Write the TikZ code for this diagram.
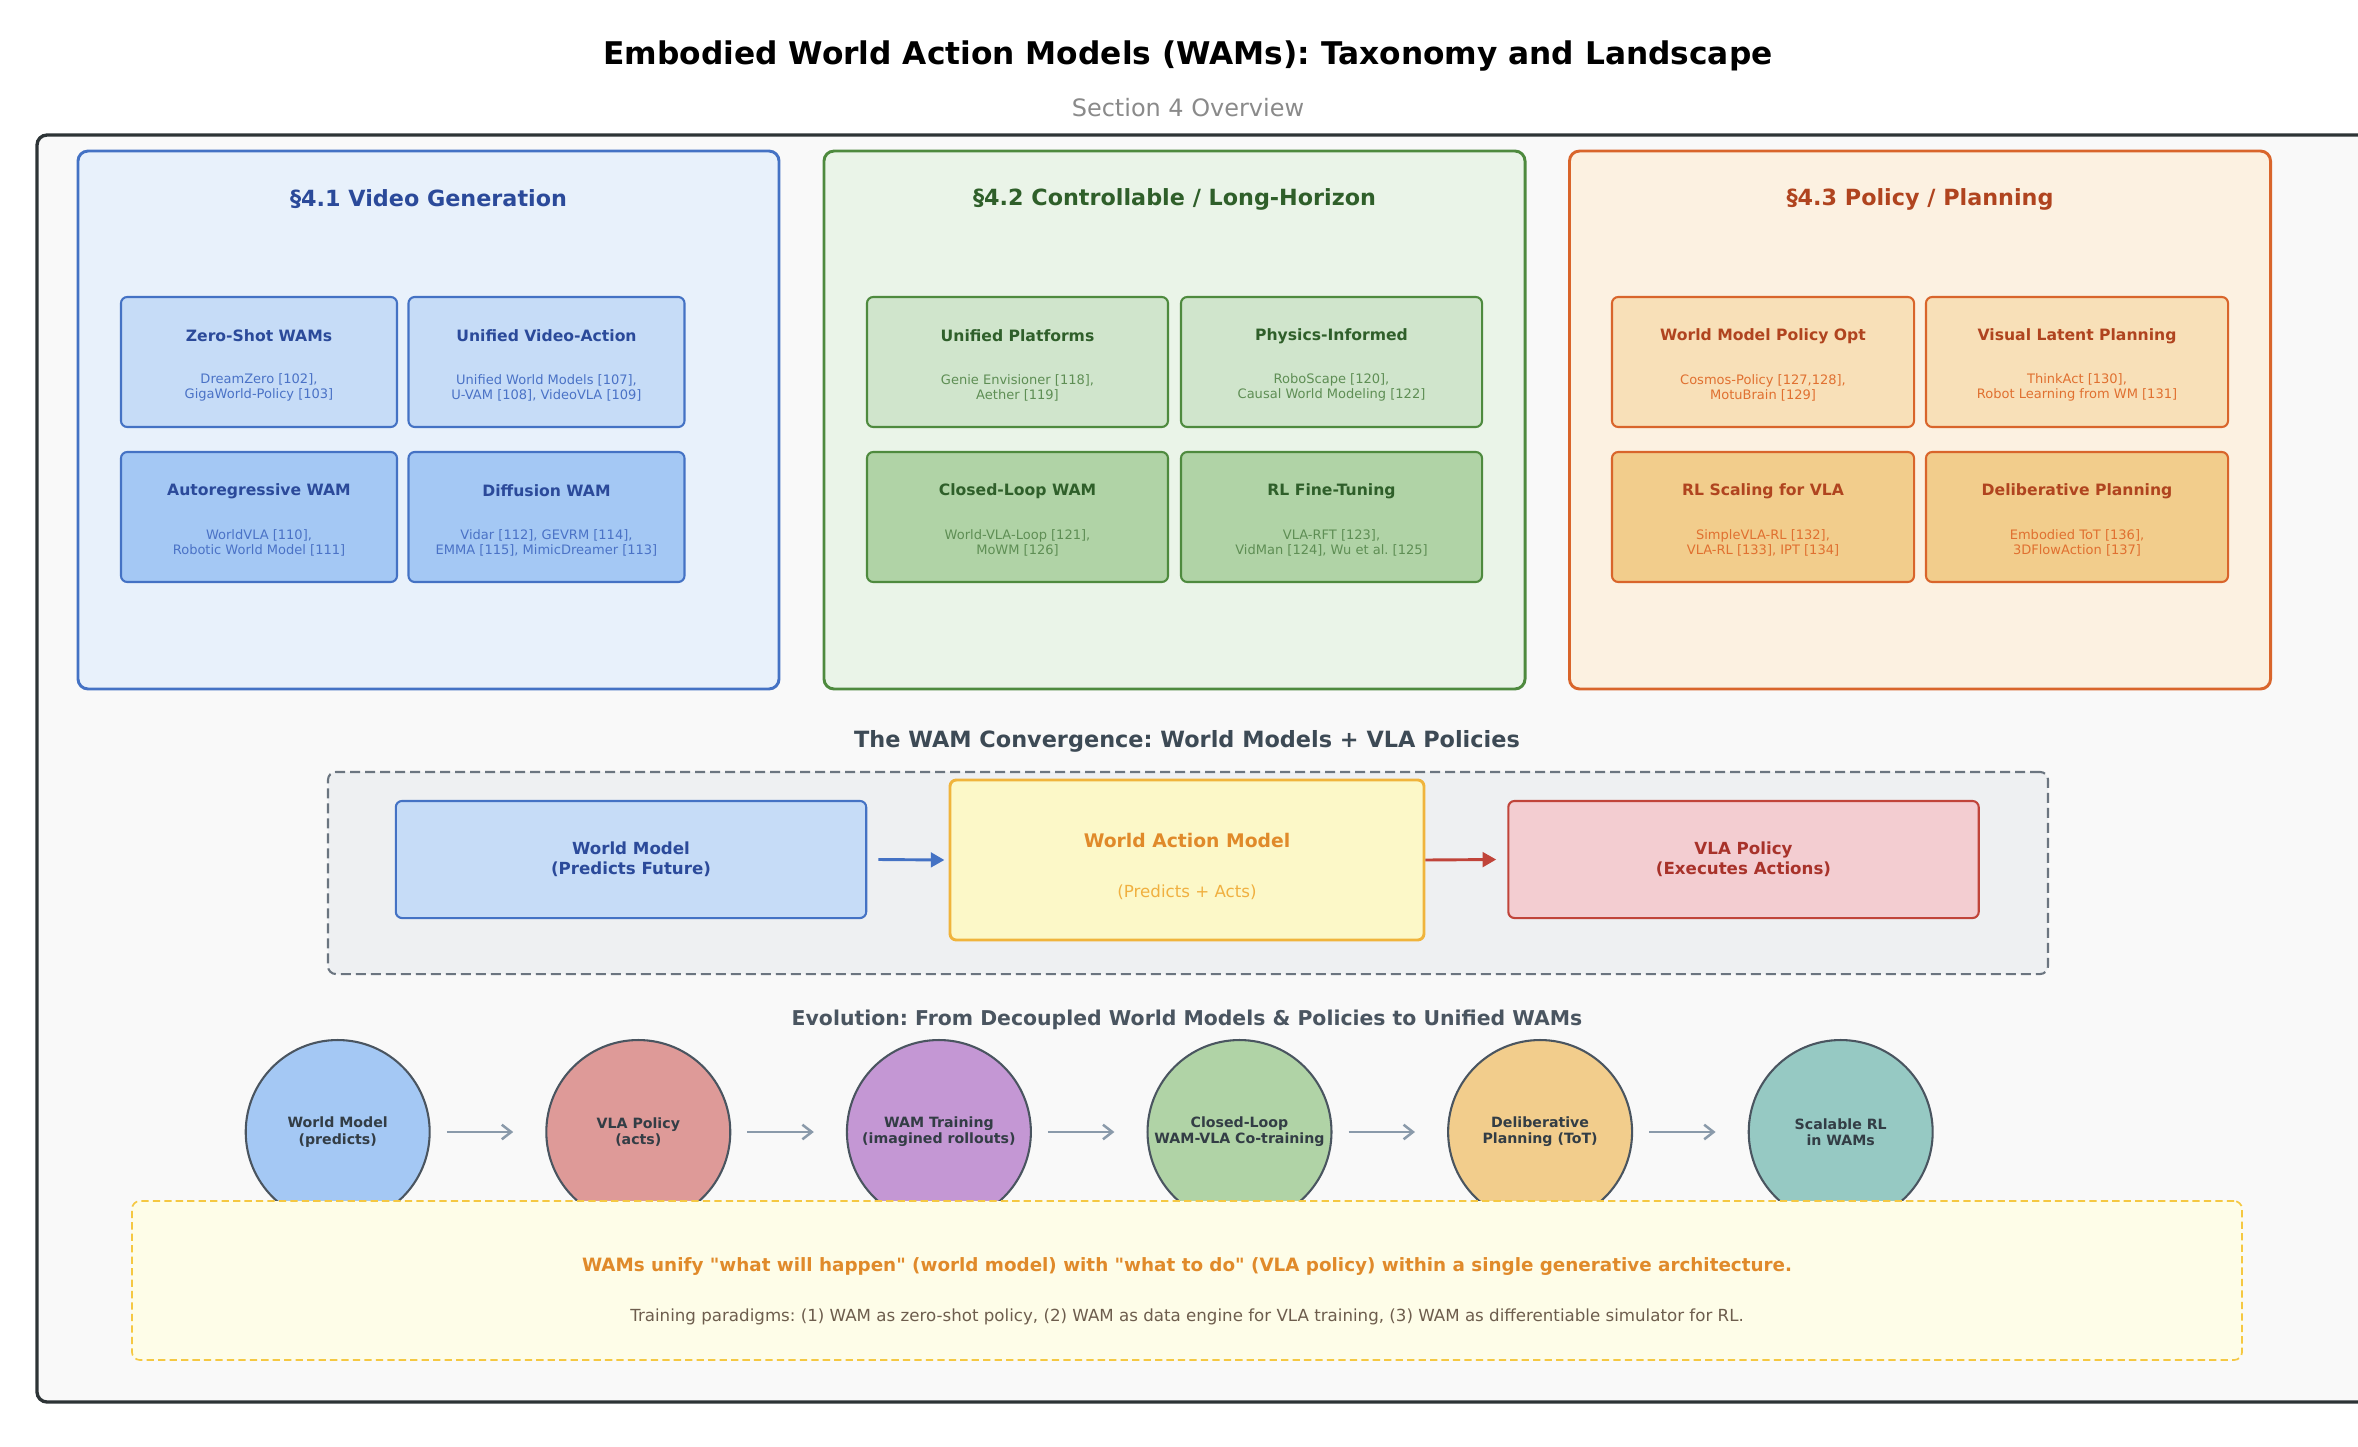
\documentclass[tikz,border=0pt]{standalone}
\usepackage{fontspec}
\setmainfont{DejaVu Sans}[Ligatures=TeXOff]
\usepackage{tikz}
\usetikzlibrary{arrows.meta,positioning}
\usepackage{xcolor}
\frenchspacing
\definecolor{framegray}{HTML}{2D3436}
\definecolor{framefill}{HTML}{F9F9F9}
\definecolor{subgray}{HTML}{8A8A8A}
\definecolor{vgline}{HTML}{4472C4}
\definecolor{vgpanel}{HTML}{E8F1FB}
\definecolor{vgtop}{HTML}{C6DCF7}
\definecolor{vgbot}{HTML}{A4C8F4}
\definecolor{vgtext}{HTML}{2B4A9A}
\definecolor{vgref}{HTML}{4A72C6}
\definecolor{clline}{HTML}{4E8A3E}
\definecolor{clpanel}{HTML}{EAF4E8}
\definecolor{cltop}{HTML}{D0E5CC}
\definecolor{clbot}{HTML}{B0D3A6}
\definecolor{cltext}{HTML}{2F5F2A}
\definecolor{clref}{HTML}{5E8E54}
\definecolor{ppline}{HTML}{D9652B}
\definecolor{pppanel}{HTML}{FCF1E1}
\definecolor{pptop}{HTML}{F8E0B8}
\definecolor{ppbot}{HTML}{F2CD8C}
\definecolor{pptext}{HTML}{B0441F}
\definecolor{ppref}{HTML}{E07030}
\definecolor{convtext}{HTML}{3D4A55}
\definecolor{dashgray}{HTML}{6B7580}
\definecolor{convfill}{HTML}{EEF0F2}
\definecolor{wamfill}{HTML}{FCF8C8}
\definecolor{wamline}{HTML}{F0B43C}
\definecolor{wamtext}{HTML}{E08A2A}
\definecolor{wamsub}{HTML}{F0B040}
\definecolor{vlafill}{HTML}{F3CDD1}
\definecolor{vlaline}{HTML}{C0443A}
\definecolor{vlatext}{HTML}{A8322A}
\definecolor{evline}{HTML}{4A5560}
\definecolor{evtext}{HTML}{333D45}
\definecolor{evarrow}{HTML}{8A9AAA}
\definecolor{evblue}{HTML}{A4C8F4}
\definecolor{evred}{HTML}{DE9A98}
\definecolor{evpurple}{HTML}{C497D4}
\definecolor{evgreen}{HTML}{B0D3A6}
\definecolor{evorange}{HTML}{F2CD8C}
\definecolor{evteal}{HTML}{96C9C3}
\definecolor{notefill}{HTML}{FEFDE8}
\definecolor{noteline}{HTML}{F5C842}
\definecolor{notegray}{HTML}{6D5D4D}

\begin{document}
\begin{tikzpicture}[x=0.48pt, y=-0.48pt,
    every node/.style={inner sep=0pt, align=center},
    panel/.style={line width=1.4pt, rounded corners=4.8pt, minimum width=336.5pt, minimum height=258.2pt},
    ptitle/.style={font=\fontsize{10.7}{13}\selectfont\bfseries},
    subbox/.style={line width=1pt, rounded corners=3pt, minimum height=62.4pt},
    btitle/.style={font=\fontsize{7.5}{9}\selectfont\bfseries},
    bref/.style={font=\fontsize{6.25}{7.2}\selectfont},
    flowbox/.style={line width=1pt, rounded corners=3pt, minimum width=225.8pt, minimum height=56.2pt,
      font=\fontsize{8}{9.6}\selectfont\bfseries},
    stage/.style={circle, draw=evline, line width=1pt, minimum size=88.3pt, text=evtext,
      font=\fontsize{6.8}{7.8}\selectfont\bfseries},
    steparrow/.style={-{Straight Barb[length=4.5pt,width=7pt]}, line width=1.2pt, evarrow}]
  \useasboundingbox (0,0) rectangle (2358,1446);
  \fill[white] (0,0) rectangle (2358,1446);

  \node[font=\fontsize{15}{18}\selectfont\bfseries] (title) at (1188,56) {Embodied World Action Models (WAMs): Taxonomy and Landscape};
  \node[font=\fontsize{11.5}{13}\selectfont, text=subgray] (subtitle) at (1188,108) {Section 4 Overview};
  \draw[framegray, fill=framefill, line width=1.6pt, rounded corners=4.8pt] (37,135) rectangle (2420,1402);

  % section 4 panels
  \node[panel, draw=vgline, fill=vgpanel] (vg) at (428.5,420) {};
  \node[panel, draw=clline, fill=clpanel] (cl) at (1174.5,420) {};
  \node[panel, draw=ppline, fill=pppanel] (pp) at (1920,420) {};
  \node[ptitle, text=vgtext] (vg-t) at (428.5,199) {§4.1 Video Generation};
  \node[ptitle, text=cltext] (cl-t) at (1174.5,199) {§4.2 Controllable / Long-Horizon};
  \node[ptitle, text=pptext] (pp-t) at (1920,199) {§4.3 Policy / Planning};

  \foreach \nm/\cx/\cy/\fl/\ttl/\rfs in {
      zeroshot/259/362/vgtop/{Zero-Shot WAMs}/{DreamZero [102],\\GigaWorld-Policy [103]},
      unifiedva/546.5/362/vgtop/{Unified Video-Action}/{Unified World Models [107],\\U-VAM [108], VideoVLA [109]},
      autoreg/259/517/vgbot/{Autoregressive WAM}/{WorldVLA [110],\\Robotic World Model [111]},
      diffusion/546.5/517/vgbot/{Diffusion WAM}/{Vidar [112], GEVRM [114],\\EMMA [115], MimicDreamer [113]}}
  {
    \node[subbox, minimum width=132.5pt, draw=vgline, fill=\fl] (\nm) at (\cx,\cy) {};
    \node[btitle, text=vgtext] (\nm-t) at ([yshift=12.5pt]\nm.center) {\ttl};
    \node[bref, text=vgref] (\nm-r) at ([yshift=-12.4pt]\nm.center) {\rfs};
  }

  \foreach \nm/\cx/\cy/\fl/\ttl/\rfs in {
      platforms/1017.5/362/cltop/{Unified Platforms}/{Genie Envisioner [118],\\Aether [119]},
      physics/1331.5/362/cltop/{Physics-Informed}/{RoboScape [120],\\Causal World Modeling [122]},
      closedloop/1017.5/517/clbot/{Closed-Loop WAM}/{World-VLA-Loop [121],\\MoWM [126]},
      rlfine/1331.5/517/clbot/{RL Fine-Tuning}/{VLA-RFT [123],\\VidMan [124], Wu et al. [125]}}
  {
    \node[subbox, minimum width=144.5pt, draw=clline, fill=\fl] (\nm) at (\cx,\cy) {};
    \node[btitle, text=cltext] (\nm-t) at ([yshift=12.5pt]\nm.center) {\ttl};
    \node[bref, text=clref] (\nm-r) at ([yshift=-12.4pt]\nm.center) {\rfs};
  }

  \foreach \nm/\cx/\cy/\fl/\ttl/\rfs in {
      policyopt/1763/362/pptop/{World Model Policy Opt}/{Cosmos-Policy [127,128],\\MotuBrain [129]},
      latentplan/2077/362/pptop/{Visual Latent Planning}/{ThinkAct [130],\\Robot Learning from WM [131]},
      rlscaling/1763/517/ppbot/{RL Scaling for VLA}/{SimpleVLA-RL [132],\\VLA-RL [133], IPT [134]},
      deliberative/2077/517/ppbot/{Deliberative Planning}/{Embodied ToT [136],\\3DFlowAction [137]}}
  {
    \node[subbox, minimum width=145pt, draw=ppline, fill=\fl] (\nm) at (\cx,\cy) {};
    \node[btitle, text=pptext] (\nm-t) at ([yshift=12.5pt]\nm.center) {\ttl};
    \node[bref, text=ppref] (\nm-r) at ([yshift=-12.4pt]\nm.center) {\rfs};
  }

  % convergence row
  \node[font=\fontsize{10.75}{13}\selectfont\bfseries, text=convtext] (conv-t) at (1187,741.5) {The WAM Convergence: World Models + VLA Policies};
  \node[draw=dashgray, fill=convfill, dash pattern=on 4.8pt off 2.4pt, line width=1pt, rounded corners=3.8pt,
    minimum width=825.6pt, minimum height=97pt] (convbox) at (1188,873) {};
  \node[flowbox, draw=vgline, fill=vgtop, text=vgtext] (wm) at (631,859.5) {World Model\\(Predicts Future)};
  \node[line width=1.4pt, rounded corners=3pt, draw=wamline, fill=wamfill, minimum width=227.5pt, minimum height=76.8pt] (wam) at (1187,860) {};
  \node[font=\fontsize{9}{11}\selectfont\bfseries, text=wamtext] (wam-t) at ([yshift=9.6pt]wam.center) {World Action Model};
  \node[font=\fontsize{8}{9}\selectfont, text=wamsub] (wam-s) at ([yshift=-15.4pt]wam.center) {(Predicts + Acts)};
  \node[flowbox, draw=vlaline, fill=vlafill, text=vlatext] (vla) at (1743.5,859.5) {VLA Policy\\(Executes Actions)};
  \draw[-{Triangle[length=6.5pt,width=7pt]}, line width=1.4pt, vgline] ([xshift=5.3pt]wm.east) -- ([xshift=-2pt]wam.west);
  \draw[-{Triangle[length=6.5pt,width=7pt]}, line width=1.4pt, vlaline] (wam.east) -- ([xshift=-5.3pt]vla.west);

  % evolution
  \node[font=\fontsize{9.8}{12}\selectfont\bfseries, text=evline] (evo-t) at (1187,1020) {Evolution: From Decoupled World Models \& Policies to Unified WAMs};
  \foreach \i/\fl/\txt in {1/evblue/{World Model\\(predicts)}, 2/evred/{VLA Policy\\(acts)},
      3/evpurple/{WAM Training\\(imagined rollouts)}, 4/evgreen/{Closed-Loop\\WAM-VLA Co-training},
      5/evorange/{Deliberative\\Planning (ToT)}, 6/evteal/{Scalable RL\\in WAMs}}
    \node[stage, fill=\fl] (st\i) at ({337.7+300.6*(\i-1)},1132) {\txt};
  \foreach \i [count=\j from 2] in {1,...,5}
    \draw[steparrow] ([xshift=7.7pt]st\i.east) -- ([xshift=-15.4pt]st\j.west);

  \node[draw=noteline, fill=notefill, dash pattern=on 3.5pt off 2pt, line width=0.8pt, rounded corners=3.8pt,
    minimum width=1012.8pt, minimum height=76.3pt] (note) at (1187,1280.5) {};
  \node[font=\fontsize{8.8}{11}\selectfont\bfseries, text=wamtext] (note-a) at (1187,1266) {WAMs unify "what will happen" (world model) with "what to do" (VLA policy) within a single generative architecture.};
  \node[font=\fontsize{8}{9.5}\selectfont, text=notegray] (note-b) at (1187,1317) {Training paradigms: (1) WAM as zero-shot policy, (2) WAM as data engine for VLA training, (3) WAM as differentiable simulator for RL.};
\end{tikzpicture}
\end{document}
